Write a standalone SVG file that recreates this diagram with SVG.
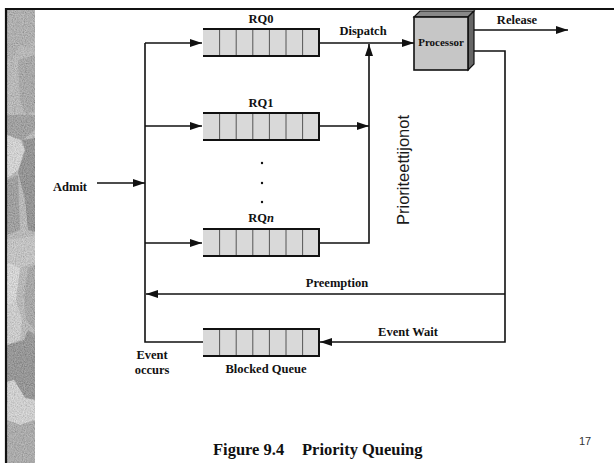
<svg xmlns="http://www.w3.org/2000/svg" width="614" height="463" viewBox="0 0 614 463">
<defs>
<style>
.lbl{font-family:"Liberation Serif","Times New Roman",serif;font-weight:bold;font-size:12.5px;fill:#111;text-anchor:middle}
.q{fill:#d9d9d9}
.qe{stroke:#111;stroke-width:2;fill:none}
.qd{stroke:#555;stroke-width:1;fill:none}
.c{stroke:#111;stroke-width:1.6;fill:none}
.ca{stroke:#111;stroke-width:1.6;fill:none;marker-end:url(#ah)}
</style>
<marker id="ah" markerWidth="12" markerHeight="8" refX="12" refY="4" orient="auto" markerUnits="userSpaceOnUse">
<path d="M0,0 L12,4 L0,8 Z" fill="#111"/>
</marker>
<filter id="grain" x="0" y="0" width="100%" height="100%">
<feTurbulence type="fractalNoise" baseFrequency="0.9" numOctaves="2" seed="3" result="n"/>
<feColorMatrix in="n" type="matrix" values="1 0 0 0 0  1 0 0 0 0  1 0 0 0 0  0 0 0 0 0.4"/>
</filter>
<g id="queue">
<rect class="q" x="0" y="0" width="116" height="27"/>
<path class="qd" d="M16.6,0V27M33.2,0V27M49.8,0V27M66.4,0V27M83,0V27M99.6,0V27"/>
<path class="qe" d="M0,0H116V27H0"/>
</g>
</defs>
<rect x="0" y="0" width="614" height="463" fill="#fff"/>
<g id="texture">
<rect x="7" y="9" width="28" height="454" fill="#b4b4b4"/>
<path d="M7,9H35V40L28,48L20,45L12,60L7,58Z" fill="#a6a6a6"/>
<path d="M18,60L35,55V110L26,115L20,100Z" fill="#9a9a9a"/>
<path d="M7,115H35V130L22,140L7,135Z" fill="#8e8e8e"/>
<path d="M7,135L20,140L25,150L18,170L7,178Z" fill="#dedede"/>
<path d="M22,140L35,138V232L28,230L25,200L18,172L25,150Z" fill="#7a7a7a"/>
<path d="M7,180L18,175L20,230L7,235Z" fill="#8c8c8c"/>
<path d="M7,240L35,236V262L20,268L7,262Z" fill="#c6c6c6"/>
<path d="M7,262L20,268L16,300L7,305Z" fill="#e2e2e2"/>
<path d="M28,268L35,265V330L26,320L24,295Z" fill="#999"/>
<path d="M7,305L16,300L22,320L20,340L7,345Z" fill="#d4d4d4"/>
<path d="M7,345L24,340L28,330L35,335V400L25,398L14,380L7,382Z" fill="#7e7e7e"/>
<path d="M7,382L14,380L25,398L35,400V420L20,425L7,420Z" fill="#dadada"/>
<path d="M7,420L20,425L35,420V463H7Z" fill="#a0a0a0"/>
<rect x="7" y="9" width="28" height="454" filter="url(#grain)"/>
</g>
<g id="frame">
<path d="M6,463V9H614" stroke="#111" stroke-width="2.2" fill="none"/>
</g>
<g id="connectors">
<path class="ca" d="M97,183H145"/>
<path class="c" d="M145,43V342H203"/>
<path class="ca" d="M145,43H202"/>
<path class="ca" d="M145,126H202"/>
<path class="ca" d="M145,243H202"/>
<path class="ca" d="M319,43H414"/>
<path class="ca" d="M319,126H369"/>
<path class="ca" d="M319,243H369V44"/>
<path class="ca" d="M472,30H568"/>
<path class="ca" d="M472,51H505V342H320"/>
<path class="ca" d="M505,294H146"/>
</g>
<g id="rq0">
<use href="#queue" x="203" y="29"/>
<text class="lbl" x="261" y="23">RQ0</text>
</g>
<g id="rq1">
<use href="#queue" x="203" y="113"/>
<text class="lbl" x="261" y="107">RQ1</text>
</g>
<g id="dots">
<circle cx="262" cy="163" r="1.2" fill="#111"/>
<circle cx="262" cy="183" r="1.2" fill="#111"/>
<circle cx="262" cy="202" r="1.2" fill="#111"/>
</g>
<g id="rqn">
<use href="#queue" x="203" y="229"/>
<text class="lbl" x="261" y="222">RQ<tspan font-style="italic">n</tspan></text>
</g>
<g id="blocked">
<use href="#queue" x="203" y="329"/>
<text class="lbl" x="266" y="373">Blocked Queue</text>
</g>
<g id="processor">
<path d="M414,17L420,11H474L468,17Z" fill="#888" stroke="#111" stroke-width="1.2"/>
<path d="M468,17L474,11V64L468,70Z" fill="#666" stroke="#111" stroke-width="1.2"/>
<rect x="414" y="17" width="54" height="53" fill="#c6c6c6" stroke="#111" stroke-width="1.6"/>
<text class="lbl" x="441" y="46" style="font-size:11px">Processor</text>
</g>
<g id="labels">
<text class="lbl" x="70" y="191">Admit</text>
<text class="lbl" x="363" y="35">Dispatch</text>
<text class="lbl" x="517" y="24">Release</text>
<text class="lbl" x="337" y="287">Preemption</text>
<text class="lbl" x="408" y="336">Event Wait</text>
<text class="lbl" x="152" y="359">Event</text>
<text class="lbl" x="152" y="374">occurs</text>
<text transform="translate(409,170) rotate(-90)" x="0" y="0" font-family="'Liberation Sans', Arial, sans-serif" font-size="16.5" fill="#1a1a1a" text-anchor="middle">Prioriteettijonot</text>
<text x="213" y="455" font-family="'Liberation Serif','Times New Roman',serif" font-weight="bold" font-size="16.5" fill="#111">Figure 9.4</text>
<text x="302" y="455" font-family="'Liberation Serif','Times New Roman',serif" font-weight="bold" font-size="16.5" fill="#111">Priority Queuing</text>
<text x="585" y="445" font-family="'Liberation Sans', Arial, sans-serif" font-size="11" fill="#333" text-anchor="middle">17</text>
</g>
</svg>
